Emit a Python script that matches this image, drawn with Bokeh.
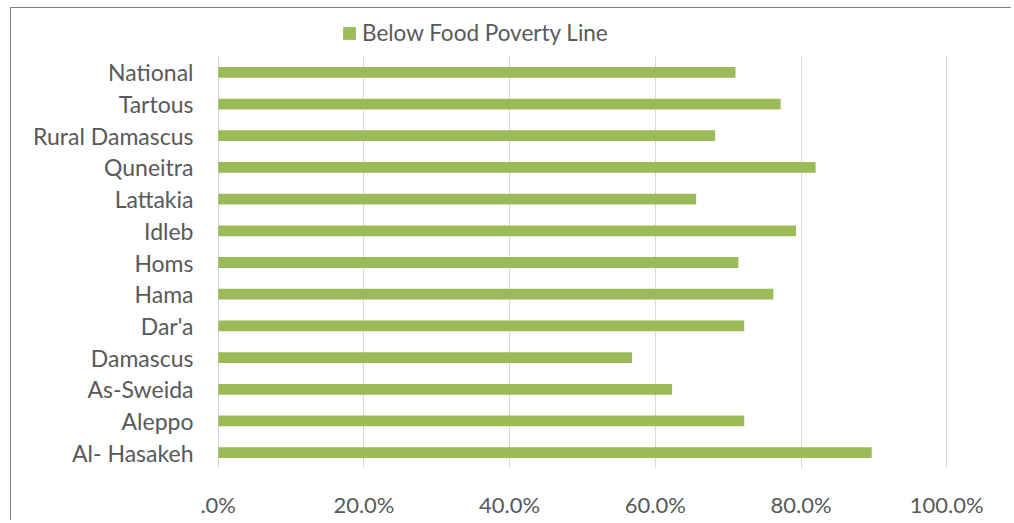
from bokeh.plotting import figure
from bokeh.layouts import column
from bokeh.models import FixedTicker, Legend, LegendItem, ColumnDataSource
from bokeh.embed import file_html
from bokeh.resources import INLINE

# ---- data ----
regions = ["Al- Hasakeh", "Aleppo", "As-Sweida", "Damascus", "Dar'a", "Hama",
           "Homs", "Idleb", "Lattakia", "Quneitra", "Rural Damascus", "Tartous",
           "National"]
below_food_poverty = [89.7, 72.2, 62.3, 56.8, 72.2, 76.2,
                      71.4, 79.3, 65.6, 82.0, 68.2, 77.2,
                      71.0]
tick_values = [0, 20, 40, 60, 80, 100]
tick_labels = [".0%", "20.0%", "40.0%", "60.0%", "80.0%", "100.0%"]
series_name = "Below Food Poverty Line"

FONT = "Lato"
TXT = "#595959"
GREEN = "#9bbb59"
W = 1000

src = ColumnDataSource(dict(region=regions, value=below_food_poverty))

# ---- legend strip (top) ----
top = figure(width=W, height=48, x_range=(0, 100), y_range=regions,
             x_axis_type=None, y_axis_type=None,
             output_backend="svg", toolbar_location=None,
             min_border_left=0, min_border_right=0,
             min_border_top=0, min_border_bottom=0)
top.outline_line_color = None
top.grid.visible = False
lr = top.hbar(y="region", right="value", left=0, height=0.34, source=src,
              fill_color=GREEN, line_color=None, visible=False)
legend = Legend(items=[LegendItem(label=series_name, renderers=[lr])],
                location=(124, 10), orientation="horizontal",
                label_text_font=FONT, label_text_color=TXT,
                label_text_font_size="22.5px", glyph_width=16, glyph_height=16,
                label_standoff=5, padding=0, margin=0,
                background_fill_alpha=0, border_line_color=None)
top.add_layout(legend, "center")

# ---- main chart ----
p = figure(width=W, height=464, y_range=regions, x_range=(-0.1, 100.1),
           output_backend="svg", toolbar_location=None,
           min_border_left=206, min_border_right=64,
           min_border_top=0, min_border_bottom=48)
p.outline_line_color = None

p.hbar(y="region", right="value", left=0, height=0.34, source=src,
       fill_color=GREEN, line_color=None)

p.xaxis.ticker = FixedTicker(ticks=tick_values)
p.xaxis.major_label_overrides = {v: l for v, l in zip(tick_values, tick_labels)}
for ax in (p.xaxis, p.yaxis):
    ax.axis_line_color = None
    ax.major_tick_line_color = None
    ax.minor_tick_line_color = None
    ax.major_tick_out = 0
    ax.major_tick_in = 0
    ax.minor_tick_out = 0
    ax.minor_tick_in = 0
    ax.major_label_text_font = FONT
    ax.major_label_text_color = TXT
    ax.major_label_text_font_size = "22px"
p.yaxis.major_label_text_font_size = "23px"
p.xaxis.major_label_standoff = 22
p.yaxis.major_label_standoff = 24

p.xgrid.grid_line_color = "#d9d9d9"
p.xgrid.grid_line_width = 1
p.ygrid.grid_line_color = None

layout = column(top, p, spacing=0)
layout.styles = {"border-left": "1px solid #808080", "border-top": "1px solid #808080",
                 "margin-left": "10px", "margin-top": "7px"}

open("out.html", "w").write(file_html(layout, INLINE))
